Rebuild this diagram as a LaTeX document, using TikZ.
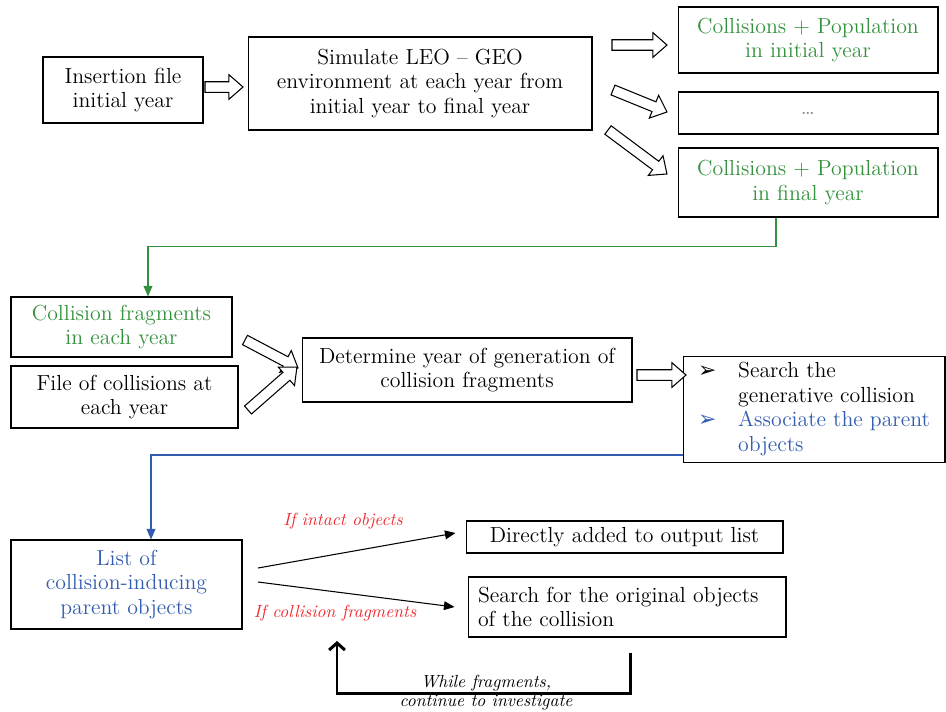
\documentclass[tikz,border=0pt]{standalone}
\usepackage{fontspec}
\newfontfamily\dingfont{DejaVu Sans}
\usetikzlibrary{arrows.meta,calc}

\definecolor{simgreen}{RGB}{52,145,62}
\definecolor{simblue}{RGB}{50,92,175}
\definecolor{simred}{RGB}{240,40,45}

% hollow block arrow between two named coordinates
\newcommand{\hollowarrow}[2]{%
  \draw[line width=0.6pt, fill=white] let \p1=($(#2)-(#1)$), \n1={atan2(\y1,\x1)}, \n2={veclen(\x1,\y1)} in
    [shift={(#1)}, rotate=\n1]
    (0pt,-3pt) -- ({\n2-8pt},-3pt) -- ({\n2-8pt},-7pt) -- (\n2,0pt)
    -- ({\n2-8pt},7pt) -- ({\n2-8pt},3pt) -- (0pt,3pt) -- cycle;}

\begin{document}
\begin{tikzpicture}[x=0.02cm, y=-0.02cm,
    box/.style={draw, line width=0.6pt, align=center, font=\fontsize{12.4}{14}\selectfont, inner sep=2pt},
    flow/.style={-{Triangle[length=6pt,width=5pt]}, line width=0.6pt},
    cond/.style={font=\itshape, text=simred},
    loopnote/.style={font=\itshape}]
    \useasboundingbox (0,0) rectangle (946,711);

    % First stage: simulation
    \node[box, minimum width=3.2cm, minimum height=1.32cm] (insert) at (123,90) {Insertion file\\initial year};
    \node[box, minimum width=6.88cm, minimum height=1.86cm] (simulate) at (420,83.5) {Simulate LEO -- GEO\\environment at each year from\\initial year to final year};
    \node[box, minimum width=5.2cm, minimum height=1.32cm, text=simgreen] (initial) at (808,40) {Collisions + Population\\in initial year};
    \node[box, minimum width=5.2cm, minimum height=0.84cm, text=gray] (dots) at (808,113) {\ldots};
    \node[box, minimum width=5.2cm, minimum height=1.38cm, text=simgreen] (final) at (808,182.5) {Collisions + Population\\in final year};

    % Second stage: generation year
    \node[box, minimum width=4.42cm, minimum height=1.2cm, text=simgreen] (frag) at (121.5,327) {Collision fragments\\in each year};
    \node[box, minimum width=4.54cm, minimum height=1.24cm] (file) at (124.5,397) {File of collisions at\\each year};
    \node[box, minimum width=6.6cm, minimum height=1.28cm] (determine) at (467,370) {Determine year of generation of\\collision fragments};
    \node[box, minimum width=5.24cm, minimum height=2.06cm, align=left] (search) at (814,409.5) {%
        \begin{tabular}{@{}p{0.8cm}@{}l@{}}
            {\dingfont ➢} & Search the\\
             & generative collision\\
            \textcolor{simblue}{\dingfont ➢} & \textcolor{simblue}{Associate the parent}\\
             & \textcolor{simblue}{objects}
        \end{tabular}};

    % Third stage: parent objects
    \node[box, minimum width=4.62cm, minimum height=1.78cm, text=simblue] (list) at (126.5,584.5) {List of\\collision-inducing\\parent objects};
    \node[box, minimum width=6.34cm, minimum height=0.64cm] (direct) at (624.5,537) {Directly added to output list};
    \node[box, minimum width=6.36cm, minimum height=1.2cm, text width=5.96cm, align=left] (original) at (627,607) {Search for the original objects\\of the collision};

    % Block arrows
    \foreach \name/\xa/\ya/\xb/\yb in {a1/205/87/243/87, a2/612/45/667/45, a3/613/90/667/112,
        a4/608/130/667/174, a5/245/340/298/368, a6/248/410/297/367, a7/637/375/686/375} {
        \coordinate (\name t) at (\xa,\ya);
        \coordinate (\name h) at (\xb,\yb);
        \hollowarrow{\name t}{\name h}
    }

    % Connectors between stages
    \draw[flow, draw=simgreen, -{Triangle[length=6pt,width=5pt,fill=simgreen]}] ([xshift=-0.64cm]final.south) -- ++(0,29) -| ([xshift=0.53cm]frag.north);
    \draw[flow, draw=simblue] ([yshift=-0.91cm]search.west) -| ([xshift=0.49cm]list.north);

    % Split of the parent objects
    \coordinate (upper) at (258,568);
    \coordinate (lower) at (258,582);
    \draw[flow] (upper) -- ([xshift=-0.2cm,yshift=0.08cm]direct.west);
    \draw[flow] (lower) -- ([xshift=-0.26cm]original.west);
    \node[cond] (intact) at (343,521) {If intact objects};
    \node[cond] (fragcase) at (335,613) {If collision fragments};

    % Loop back
    \coordinate (loopend) at (337,641);
    \draw[line width=1.7pt, -{Straight Barb[length=4pt,width=9pt]}] ([yshift=-0.3cm]original.south) ++(3,0) -- ++(0,41) -| (loopend);
    \node[loopnote] (while) at (486,683) {While fragments,};
    \node[loopnote] (cont) at (486,703) {continue to investigate};
\end{tikzpicture}
\end{document}
